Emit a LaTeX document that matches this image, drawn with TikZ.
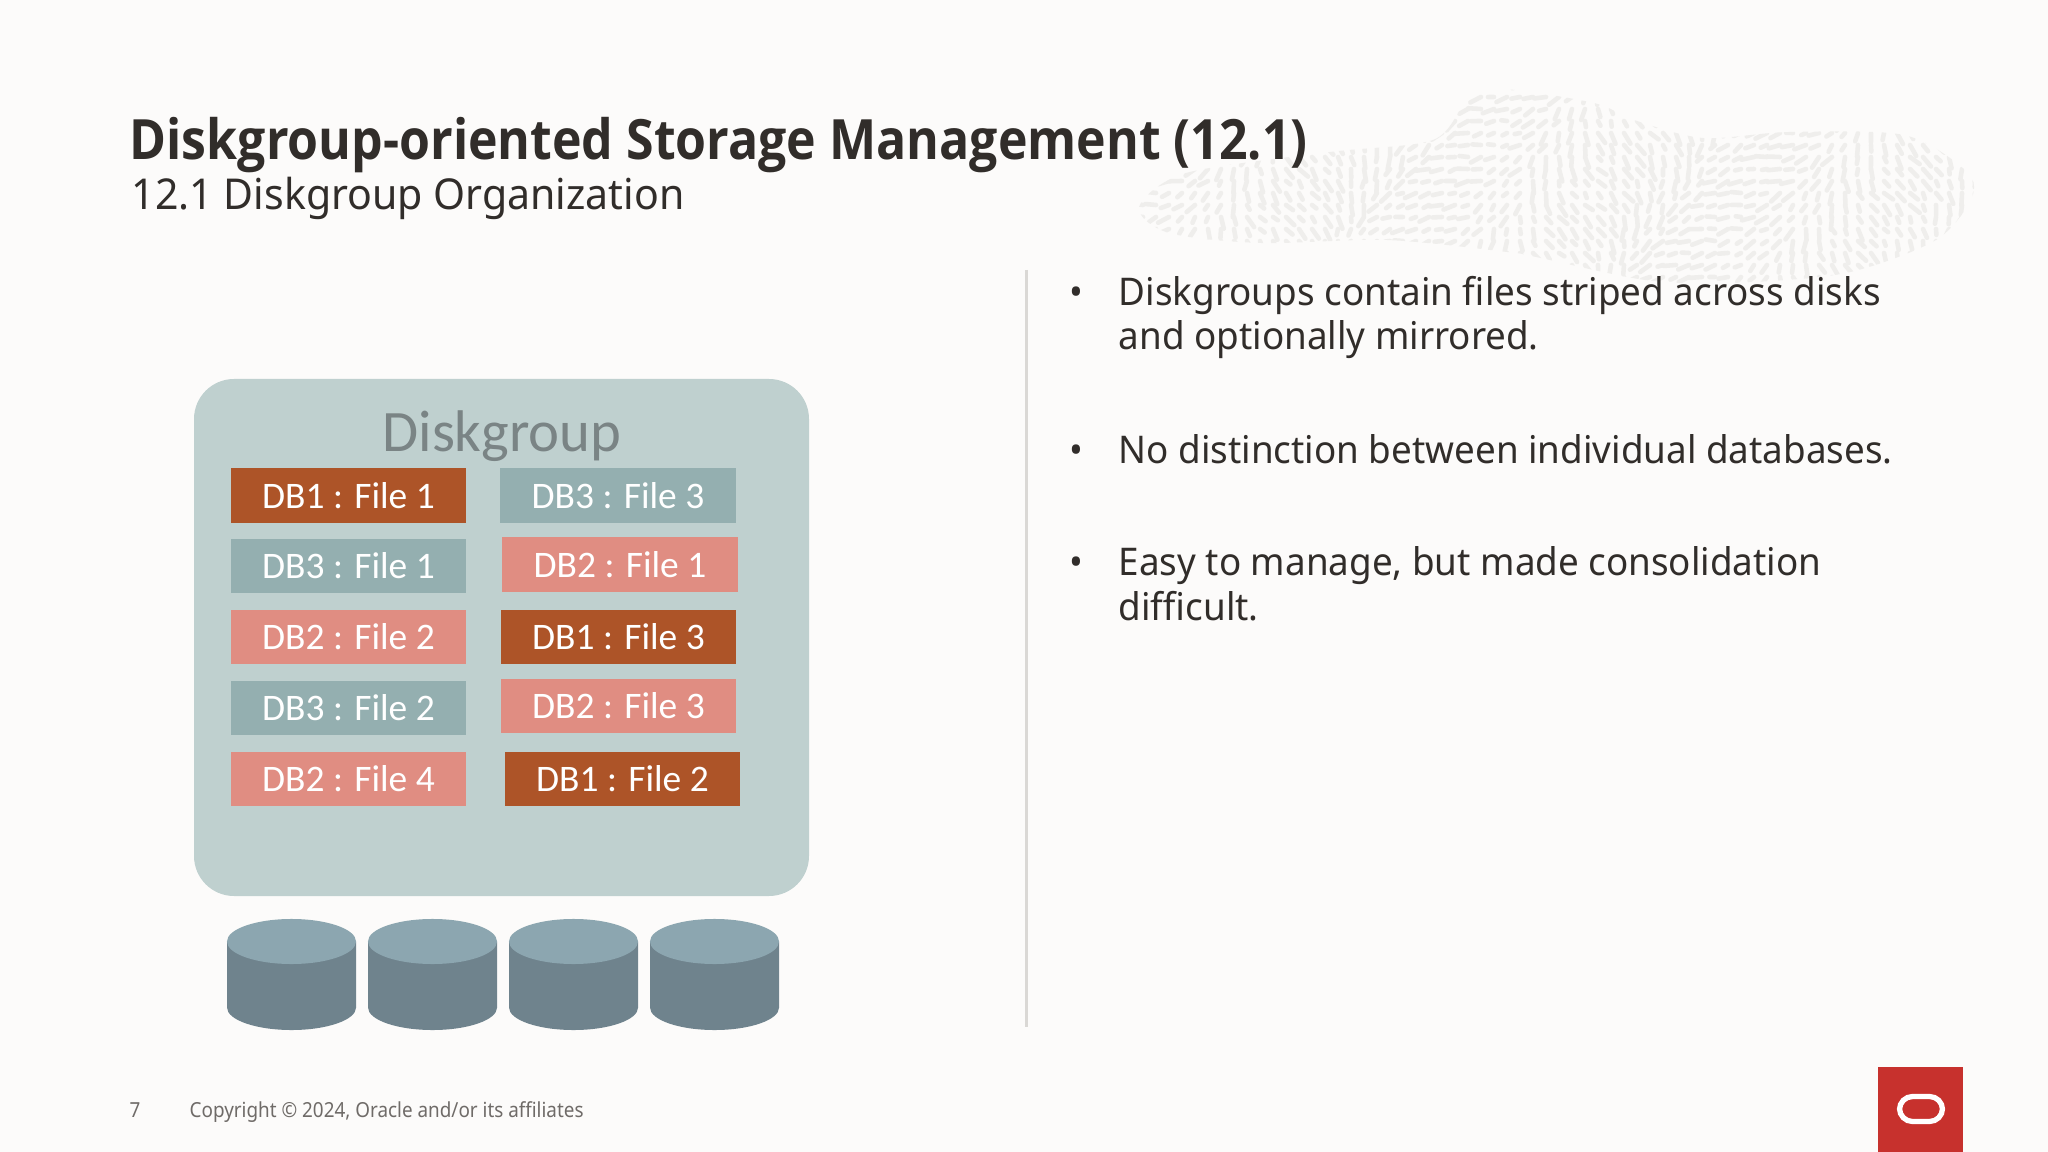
\documentclass[tikz,border=0pt]{standalone}
\usepackage{fontspec}
\setmainfont[FakeStretch=0.965]{Noto Sans}
\newfontfamily\headfont[FakeStretch=0.9]{Open Sans}
\newfontfamily\footfont[FakeStretch=0.91]{Noto Sans}
\newfontfamily\boxfont{Carlito}
\definecolor{pagebg}{HTML}{FCFBFA}
\definecolor{inkdark}{HTML}{312D2A}
\definecolor{inkgrey}{HTML}{6F6B68}
\definecolor{blobmark}{HTML}{EFEEEC}
\definecolor{rulegrey}{HTML}{DAD8D5}
\definecolor{panelfill}{HTML}{BFD0CF}
\definecolor{panelink}{HTML}{7A8485}
\definecolor{rustfill}{HTML}{AD5428}
\definecolor{tealfill}{HTML}{94AFB0}
\definecolor{salmonfill}{HTML}{E08D82}
\definecolor{disktop}{HTML}{8CA6B0}
\definecolor{diskbody}{HTML}{6F838D}
\definecolor{logored}{HTML}{C7312D}
\tikzset{
  filebox/.style={minimum width=2.35cm, minimum height=0.545cm, inner sep=0pt,
    text=white, font=\boxfont\fontsize{10.65}{12}\selectfont},
  rustbox/.style={filebox, fill=rustfill},
  tealbox/.style={filebox, fill=tealfill},
  salmonbox/.style={filebox, fill=salmonfill},
  bodytext/.style={anchor=base west, inner sep=0pt, align=left, text=inkdark,
    font=\fontsize{10.85}{12.6}\selectfont},
  bulletmark/.style={anchor=base, inner sep=0pt, text=inkdark, font=\fontsize{10.85}{12.6}\selectfont},
  footertext/.style={anchor=base west, inner sep=0pt, text=inkgrey, font=\footfont\fontsize{5.9}{7}\selectfont}
}
\begin{document}
\begin{tikzpicture}[x=0.01cm, y=-0.01cm]
\useasboundingbox (0,0) rectangle (2048,1152);
\fill [pagebg] (0,0) rectangle (2048,1152);
%
% speckled shape behind the heading
\begin{scope}
\clip plot [smooth cycle] coordinates {(1139,207) (1186,173) (1330,152) (1433,140) (1467,101)
  (1502,89) (1594,103) (1634,120) (1703,138) (1789,132) (1904,135) (1965,170) (1972,197)
  (1936,240) (1846,273) (1731,283) (1645,280) (1536,257) (1507,252) (1387,240) (1261,243) (1169,233)};
\pgfmathsetseed{712}
\foreach \x in {1130,1143,...,1980} {
  \foreach \y in {85,97,...,290} {
    \pgfmathsetmacro{\ang}{90+60*sin(\x*1.2+\y*0.8)+rnd*40}
    \pgfmathsetmacro{\len}{5+rnd*8}
    \draw [blobmark, line width=1.3pt, line cap=round]
      (\x,\y) -- ++({\ang}:\len);
  }
}
\end{scope}
%
\node [anchor=base west, inner sep=0pt, text=inkdark, font=\headfont\fontsize{15.8}{20}\selectfont\bfseries]
  (heading) at (129,160) {Diskgroup-oriented Storage Management (12.1)};
\node [anchor=base west, inner sep=0pt, text=inkdark, font=\fontsize{12.1}{14}\selectfont]
  (subheading) at (131,210) {12.1 Diskgroup Organization};
%
\fill [panelfill, rounded corners=0.4cm] (194,379) rectangle (809,896);
\node [anchor=base, text=panelink, inner sep=0pt, font=\boxfont\fontsize{16.7}{18}\selectfont]
  (grouptitle) at (502,452) {Diskgroup};
%
\node [rustbox]   (dbonea)   at (348.5,495.5) {DB1 : File 1};
\node [tealbox]   (dbthreea) at (348.5,566)   {DB3 : File 1};
\node [salmonbox] (dbtwob)   at (348.5,637)   {DB2 : File 2};
\node [tealbox]   (dbthreeb) at (348.5,708)   {DB3 : File 2};
\node [salmonbox] (dbtwod)   at (348.5,779)   {DB2 : File 4};
\node [tealbox]   (dbthreec) at (618,495.5)   {DB3 : File 3};
\node [salmonbox] (dbtwoa)   at (620,564.5)   {DB2 : File 1};
\node [rustbox]   (dbonec)   at (618.5,637)   {DB1 : File 3};
\node [salmonbox] (dbtwoc)   at (618.5,706)   {DB2 : File 3};
\node [rustbox]   (dboneb)   at (622.5,779)   {DB1 : File 2};
%
\foreach \dx in {291.5,432.5,573.5,714.5} {
  \fill [diskbody] (\dx-64.5,941.5) -- (\dx-64.5,1007.5)
    arc [start angle=180, end angle=360, x radius=0.645cm, y radius=0.225cm]
    -- (\dx+64.5,941.5) -- cycle;
  \fill [disktop] (\dx,941.5) ellipse [x radius=0.645cm, y radius=0.225cm];
}
%
\draw [rulegrey, line width=0.8pt] (1026.5,270) -- (1026.5,1027);
%
\node [bulletmark] (marka) at (1076,306) {•};
\node [bodytext] (pointa) at (1118,350) {Diskgroups contain files striped across disks\\and optionally mirrored.};
\node [bulletmark] (markb) at (1076,464) {•};
\node [bodytext] (pointb) at (1118,464) {No distinction between individual databases.};
\node [bulletmark] (markc) at (1076,575) {•};
\node [bodytext] (pointc) at (1118,620) {Easy to manage, but made consolidation\\difficult.};
%
\node [footertext] (pagenum) at (129,1117) {7};
\node [footertext] (copyline) at (189,1117) {Copyright © 2024, Oracle and/or its affiliates};
%
\fill [logored] (1878,1067) rectangle (1963,1152);
\draw [white, line width=1.5pt, rounded corners=0.13cm] (1899.5,1096.5) rectangle (1942.5,1121.5);
\end{tikzpicture}
\end{document}
